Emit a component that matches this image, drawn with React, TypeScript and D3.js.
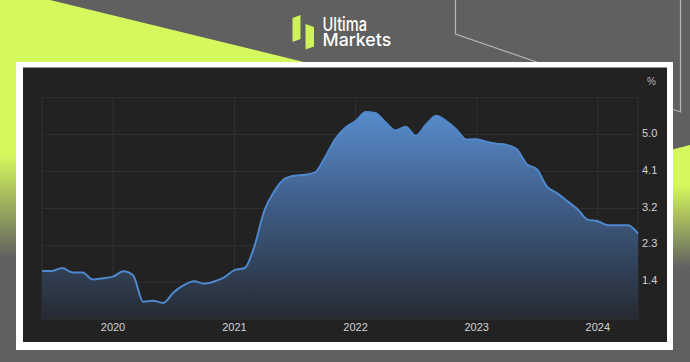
import React from "react";
import * as d3 from "d3";

const startMonth = "2019-06-01";
const values = [
  1.68, 1.68, 1.75, 1.64, 1.64, 1.47, 1.5, 1.54, 1.67, 1.58,
  0.93, 0.95, 0.9, 1.15, 1.33, 1.43, 1.37, 1.42, 1.52, 1.7,
  1.75, 2.25, 3.15, 3.62, 3.92, 4.0, 4.02, 4.08, 4.45, 4.9,
  5.17, 5.33, 5.55, 5.53, 5.3, 5.1, 5.19, 4.97, 5.24, 5.46,
  5.33, 5.12, 4.88, 4.89, 4.82, 4.78, 4.75, 4.65, 4.28, 4.16,
  3.73, 3.57, 3.38, 3.18, 2.93, 2.89, 2.79, 2.79, 2.79, 2.59,
];
const yTicks = [1.4, 2.3, 3.2, 4.1, 5.0];
const yGrid = [0.5, 1.4, 2.3, 3.2, 4.1, 5.0, 5.9];
const xTickYears = [2020, 2021, 2022, 2023, 2024];

const W = 690;
const H = 362;
const plot = { left: 42, right: 638, top: 97.7, bottom: 319.3 };

export default function App() {
  const start = new Date(startMonth + "T00:00:00");
  const dates = values.map((_, i) => d3.timeMonth.offset(start, i));
  const x = d3
    .scaleTime()
    .domain([dates[0], dates[dates.length - 1]])
    .range([plot.left, plot.right]);
  const y = d3.scaleLinear().domain([0.5, 5.9]).range([plot.bottom, plot.top]);
  const data = values.map((v, i) => ({ d: dates[i], v }));
  const line = d3
    .line<{ d: Date; v: number }>()
    .x((p) => x(p.d))
    .y((p) => y(p.v))
    .curve(d3.curveMonotoneX);
  const area = d3
    .area<{ d: Date; v: number }>()
    .x((p) => x(p.d))
    .y0(plot.bottom)
    .y1((p) => y(p.v))
    .curve(d3.curveMonotoneX);
  const yearX = xTickYears.map((yr) => x(new Date(yr, 0, 1)));
  const font = "'Liberation Sans', Arial, sans-serif";

  return (
    <svg
      width={W}
      height={H}
      style={{ position: "absolute", left: 0, top: 0, display: "block" }}
    >
      <defs>
        <linearGradient id="limeL" gradientUnits="userSpaceOnUse" x1="0" y1="0" x2="0" y2={H}>
          <stop offset={155 / H} stopColor="#d5f85c" />
          <stop offset={258 / H} stopColor="#606060" />
        </linearGradient>
        <linearGradient id="limeR" gradientUnits="userSpaceOnUse" x1="0" y1="0" x2="0" y2={H}>
          <stop offset={185 / H} stopColor="#d5f85c" />
          <stop offset={268 / H} stopColor="#606060" />
        </linearGradient>
        <linearGradient id="areaG" gradientUnits="userSpaceOnUse" x1="0" y1="105" x2="0" y2={plot.bottom}>
          <stop offset="0" stopColor="#5a8fd2" />
          <stop offset="0.5" stopColor="#3d5a82" />
          <stop offset="1" stopColor="#262a31" />
        </linearGradient>
      </defs>
      <rect x={0} y={0} width={W} height={H} fill="#606060" />
      <polygon points={`0,0 50,0 320,66 320,362 0,362`} fill="url(#limeL)" />
      <polygon points={`600,168 690,145 690,362 600,362`} fill="url(#limeR)" />
      <polyline
        points="455.5,0 455.5,34 680.5,112 680.5,0"
        fill="none"
        stroke="#b5b5b5"
        strokeWidth={1.2}
      />
      {/* logo */}
      <polygon points="292.5,18 300.5,15 300.5,39 292.5,42" fill="#cdf25a" />
      <polygon points="305.5,24 314,27 314,46.5 305.5,49.5" fill="#cdf25a" />
      <text fill="#ffffff" fontFamily="Inter, 'Noto Sans', sans-serif" fontWeight={500}>
        <tspan x={322.5} y={30.7} fontSize={18.5} textLength={44.5} lengthAdjust="spacingAndGlyphs">
          Ultima
        </tspan>
        <tspan x={322.5} y={46} fontSize={17.5} textLength={68.7} lengthAdjust="spacingAndGlyphs">
          Markets
        </tspan>
      </text>
      {/* card */}
      <rect x={16} y={62} width={657} height={288} fill="#ffffff" />
      <rect x={23} y={67.5} width={644} height={274.5} fill="#222222" />
      {/* grid */}
      {yGrid.map((g) => (
        <line key={"h" + g} x1={plot.left} x2={plot.right} y1={y(g)} y2={y(g)} stroke="#303030" strokeWidth={1} />
      ))}
      {[plot.left, ...yearX, plot.right].map((gx, i) => (
        <line key={"v" + i} x1={gx} x2={gx} y1={plot.top} y2={plot.bottom} stroke="#303030" strokeWidth={1} />
      ))}
      <path d={area(data) || ""} fill="url(#areaG)" />
      <path d={line(data) || ""} fill="none" stroke="#4f88cc" strokeWidth={2} />
      {yTicks.map((t) => (
        <text key={"yl" + t} x={642} y={y(t) + 2} fill="#cfd3d8" fontFamily={font} fontSize={11}>
          {t.toFixed(1)}
        </text>
      ))}
      <text x={647} y={85} fill="#b8b8b8" fontFamily={font} fontSize={10}>
        %
      </text>
      {xTickYears.map((yr, i) => (
        <text key={"xl" + yr} x={yearX[i]} y={330.7} fill="#cfd3d8" fontFamily={font} fontSize={11} textAnchor="middle">
          {yr}
        </text>
      ))}
    </svg>
  );
}
